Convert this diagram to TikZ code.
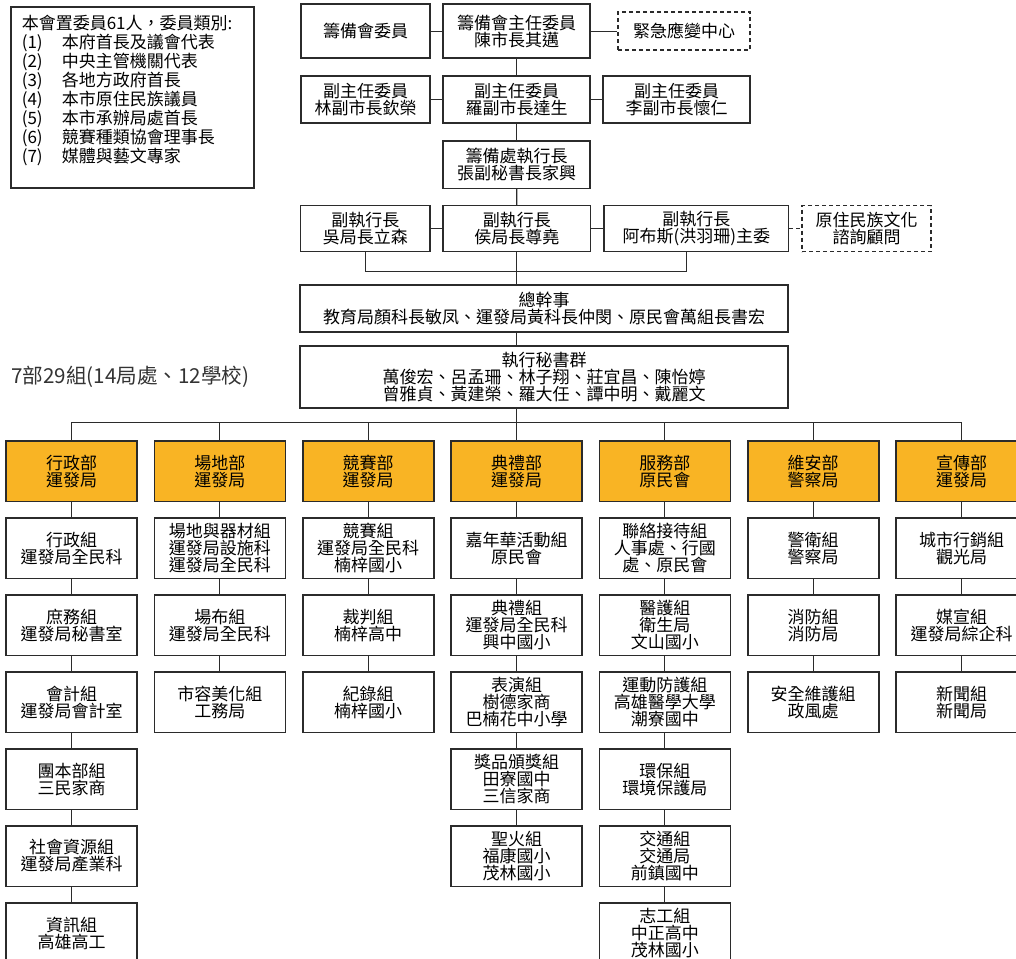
\documentclass[tikz,border=0pt]{standalone}
\usepackage{fontspec}
\setmainfont{Noto Sans CJK TC}
\usepackage{tikz}
\usetikzlibrary{positioning}
\definecolor{deptorange}{HTML}{F9B424}
\definecolor{boxline}{HTML}{2B2B2B}
\newcommand\boxfont{\fontsize{17}{17}\selectfont}
\newcommand\legendfont{\fontsize{17}{18.9}\selectfont}

\begin{document}
\begin{tikzpicture}[x=1pt, y=-1pt, node distance=14.85pt,
  box/.style={draw=boxline, line width=1.6pt, fill=white, align=center, inner sep=0pt, font=\boxfont},
  grp/.style={box, minimum width=131pt, minimum height=60.5pt},
  dept/.style={grp, fill=deptorange},
  dashbox/.style={box, dash pattern=on 4pt off 3pt},
  link/.style={draw=boxline, line width=1.2pt},
  dashlink/.style={link, dash pattern=on 4pt off 3pt}]
\useasboundingbox (0,0) rectangle (1016,958);

\node[box, align=left, anchor=north west, minimum width=243pt, minimum height=181pt,
      text width=221pt, font=\legendfont] (members) at (10,6)
{本會置委員61人，委員類別:\\
\makebox[40pt][l]{(1)}本府首長及議會代表\\
\makebox[40pt][l]{(2)}中央主管機關代表\\
\makebox[40pt][l]{(3)}各地方政府首長\\
\makebox[40pt][l]{(4)}本市原住民族議員\\
\makebox[40pt][l]{(5)}本市承辦局處首長\\
\makebox[40pt][l]{(6)}競賽種類協會理事長\\
\makebox[40pt][l]{(7)}媒體與藝文專家\\[-2pt]\mbox{}};

% top of the committee
\node[box, minimum width=129pt, minimum height=54pt] (wei) at (365.5,31.3) {籌備會委員};
\node[box, minimum width=147pt, minimum height=54pt] (chair) at (516.7,31.3) {籌備會主任委員\\陳市長其邁};
\node[dashbox, minimum width=132pt, minimum height=38pt] (emerg) at (684.2,31.3) {緊急應變中心};

\node[box, minimum width=129pt, minimum height=47pt] (vice1) at (365.5,99.7) {副主任委員\\林副市長欽榮};
\node[box, minimum width=147pt, minimum height=47pt] (vice2) at (516.7,99.7) {副主任委員\\羅副市長達生};
\node[box, minimum width=147pt, minimum height=47pt] (vice3) at (676.7,99.7) {副主任委員\\李副市長懷仁};

\node[box, minimum width=147pt, minimum height=47.6pt] (exec) at (516.7,164.5) {籌備處執行長\\張副秘書長家興};

\node[box, minimum width=129.5pt, minimum height=46pt] (dep1) at (365.3,228.6) {副執行長\\吳局長立森};
\node[box, minimum width=147.5pt, minimum height=46pt] (dep2) at (516.8,228.6) {副執行長\\侯局長尊堯};
\node[box, minimum width=184.5pt, minimum height=46pt] (dep3) at (696.3,228.6) {副執行長\\阿布斯(洪羽珊)主委};
\node[dashbox, minimum width=129pt, minimum height=46pt] (advisor) at (866.5,228.6) {原住民族文化\\諮詢顧問};

\node[box, minimum width=488pt, minimum height=47pt] (chief) at (544,308.5)
  {總幹事\\教育局顏科長敏凤、運發局黃科長仲閔、原民會萬組長書宏};
\node[box, minimum width=488pt, minimum height=62.3pt] (secr) at (544,377)
  {執行秘書群\\萬俊宏、呂孟珊、林子翔、莊宜昌、陳怡婷\\曾雅貞、黃建榮、羅大任、譚中明、戴麗文};

\node[anchor=west, inner sep=0pt, text=black!80, font=\fontsize{20.6}{24}\selectfont] (tally) at (11,377)
  {7部29組(14局處、12學校)};

\coordinate (rjoin) at (686.3,271.7);
\coordinate (bus) at (516.6,422.7);

% departments
\node[dept] (xz) at (71.5,471.3) {行政部\\運發局};
\node[dept] (cd) at (219.8,471.3) {場地部\\運發局};
\node[dept] (js) at (368.2,471.3) {競賽部\\運發局};
\node[dept] (dl) at (516.6,471.3) {典禮部\\運發局};
\node[dept] (fw) at (664.8,471.3) {服務部\\原民會};
\node[dept] (wa) at (813.2,471.3) {維安部\\警察局};
\node[dept] (xc) at (961.5,471.3) {宣傳部\\運發局};

% groups
\node[grp, below=of xz] (xz1) {行政組\\運發局全民科};
\node[grp, below=of xz1] (xz2) {庶務組\\運發局秘書室};
\node[grp, below=of xz2] (xz3) {會計組\\運發局會計室};
\node[grp, below=of xz3] (xz4) {團本部組\\三民家商};
\node[grp, below=of xz4] (xz5) {社會資源組\\運發局產業科};
\node[grp, below=of xz5] (xz6) {資訊組\\高雄高工};

\node[grp, below=of cd] (cd1) {場地與器材組\\運發局設施科\\運發局全民科};
\node[grp, below=of cd1] (cd2) {場布組\\運發局全民科};
\node[grp, below=of cd2] (cd3) {市容美化組\\工務局};

\node[grp, below=of js] (js1) {競賽組\\運發局全民科\\楠梓國小};
\node[grp, below=of js1] (js2) {裁判組\\楠梓高中};
\node[grp, below=of js2] (js3) {紀錄組\\楠梓國小};

\node[grp, below=of dl] (dl1) {嘉年華活動組\\原民會};
\node[grp, below=of dl1] (dl2) {典禮組\\運發局全民科\\興中國小};
\node[grp, below=of dl2] (dl3) {表演組\\樹德家商\\巴楠花中小學};
\node[grp, below=of dl3] (dl4) {獎品頒獎組\\田寮國中\\三信家商};
\node[grp, below=of dl4] (dl5) {聖火組\\福康國小\\茂林國小};

\node[grp, below=of fw] (fw1) {聯絡接待組\\人事處、行國\\處、原民會};
\node[grp, below=of fw1] (fw2) {醫護組\\衛生局\\文山國小};
\node[grp, below=of fw2] (fw3) {運動防護組\\高雄醫學大學\\潮寮國中};
\node[grp, below=of fw3] (fw4) {環保組\\環境保護局};
\node[grp, below=of fw4] (fw5) {交通組\\交通局\\前鎮國中};
\node[grp, below=of fw5] (fw6) {志工組\\中正高中\\茂林國小};

\node[grp, below=of wa] (wa1) {警衛組\\警察局};
\node[grp, below=of wa1] (wa2) {消防組\\消防局};
\node[grp, below=of wa2] (wa3) {安全維護組\\政風處};

\node[grp, below=of xc] (xc1) {城市行銷組\\觀光局};
\node[grp, below=of xc1] (xc2) {媒宣組\\運發局綜企科};
\node[grp, below=of xc2] (xc3) {新聞組\\新聞局};

% upper links
\draw[link] (wei.east) -- (chair.west);
\draw[link] (chair.east) -- (emerg.west);
\draw[link] (chair.south) -- (vice2.north);
\draw[link] (vice1.east) -- (vice2.west);
\draw[link] (vice2.east) -- (vice3.west);
\draw[link] (vice2.south) -- (exec.north);
\draw[link] (exec.south) -- (dep2.north);
\draw[link] (dep1.east) -- (dep2.west);
\draw[link] (dep2.east) -- (dep3.west);
\draw[dashlink] (dep3.east) -- (advisor.west);
\draw[link] (dep1.south) |- (rjoin) -- (rjoin |- dep3.south);
\draw[link] (dep2.south) -- (dep2.south |- chief.north);
\draw[link] (bus |- chief.south) -- (bus |- secr.north);
\draw[link] (bus |- secr.south) -- (bus);
%
\draw[link] (xz.north) |- (bus);
\draw[link] (cd.north) |- (bus);
\draw[link] (js.north) |- (bus);
\draw[link] (dl.north) -- (bus);
\draw[link] (fw.north) |- (bus);
\draw[link] (wa.north) |- (bus);
\draw[link] (xc.north) |- (bus);
%
\draw[link] (xz.south) -- (xz1.north);
\draw[link] (xz1.south) -- (xz2.north);
\draw[link] (xz2.south) -- (xz3.north);
\draw[link] (xz3.south) -- (xz4.north);
\draw[link] (xz4.south) -- (xz5.north);
\draw[link] (xz5.south) -- (xz6.north);
\draw[link] (cd.south) -- (cd1.north);
\draw[link] (cd1.south) -- (cd2.north);
\draw[link] (cd2.south) -- (cd3.north);
\draw[link] (js.south) -- (js1.north);
\draw[link] (js1.south) -- (js2.north);
\draw[link] (js2.south) -- (js3.north);
\draw[link] (dl.south) -- (dl1.north);
\draw[link] (dl1.south) -- (dl2.north);
\draw[link] (dl2.south) -- (dl3.north);
\draw[link] (dl3.south) -- (dl4.north);
\draw[link] (dl4.south) -- (dl5.north);
\draw[link] (fw.south) -- (fw1.north);
\draw[link] (fw1.south) -- (fw2.north);
\draw[link] (fw2.south) -- (fw3.north);
\draw[link] (fw3.south) -- (fw4.north);
\draw[link] (fw4.south) -- (fw5.north);
\draw[link] (fw5.south) -- (fw6.north);
\draw[link] (wa.south) -- (wa1.north);
\draw[link] (wa1.south) -- (wa2.north);
\draw[link] (wa2.south) -- (wa3.north);
\draw[link] (xc.south) -- (xc1.north);
\draw[link] (xc1.south) -- (xc2.north);
\draw[link] (xc2.south) -- (xc3.north);
%
\end{tikzpicture}
\end{document}
